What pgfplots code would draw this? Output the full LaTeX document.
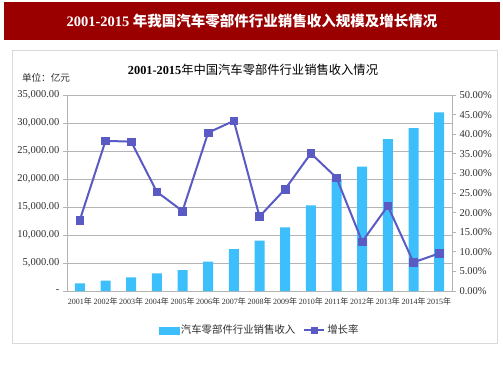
\documentclass[border=0pt]{standalone}
\usepackage{pgfplots}
\pgfplotsset{compat=1.18}
\usepackage{fontspec}
\setmainfont{Liberation Serif}
\newfontfamily\cjk{Noto Sans CJK SC}
\definecolor{banner}{HTML}{9A0000}
\definecolor{barc}{HTML}{3DBFFB}
\definecolor{linec}{HTML}{5A5AC4}
\definecolor{gridc}{HTML}{B4B4B4}
\definecolor{txt}{HTML}{303030}
\pgfplotsset{
  mylinelegend/.style={legend image code/.code={\draw[mark repeat=2,mark phase=2,##1, line width=2pt, mark size=3pt] plot coordinates {(0pt,0pt) (10pt,0pt) (20pt,0pt)};}},
  mybarlegend/.style={legend image code/.code={\fill[barc] (0pt,-3.5pt) rectangle (20pt,3.5pt);}},
}
\pgfplotstableread{
x val rate
0 1375 18.1
1 1840 38.3
2 2440 38.1
3 3150 25.3
4 3750 20.4
5 5240 40.4
6 7500 43.4
7 9000 19.0
8 11370 26.0
9 15300 35.1
10 19800 28.9
11 22200 12.6
12 27140 21.7
13 29100 7.3
14 31900 9.6
}\data
\begin{document}
\begin{tikzpicture}[x=1pt,y=1pt]
\path[fill=white] (0,0) rectangle (503,378);
\fill[banner] (4,338) rectangle (500,376);
\node[text=white,font=\fontsize{14.5}{16}\selectfont\bfseries] at (252,357) {2001-2015 {\cjk 年我国汽车零部件行业销售收入规模及增长情况}};
\draw[draw=black!15, line width=0.8pt] (12,35) rectangle (497,328);
\node[font=\fontsize{12.3}{14}\selectfont, text=black] at (253,308) {\textbf{2001-2015}{\cjk 年中国汽车零部件行业销售收入情况}};
\node[font=\cjk\fontsize{9.6}{11}\selectfont, text=txt] at (46,300) {单位：亿元};
\begin{axis}[
  at={(67pt,87pt)}, anchor=south west, scale only axis,
  width=385pt, height=196pt,
  xmin=-0.5, xmax=14.5, ymin=0, ymax=35000,
  axis x line*=bottom, axis y line*=left,
  axis line style={draw=gridc, line width=0.8pt},
  scaled y ticks=false,
  ytick={0,5000,...,35000},
  yticklabels={{-},{5,000.00},{10,000.00},{15,000.00},{20,000.00},{25,000.00},{30,000.00},{35,000.00}},
  ymajorgrids, grid style={draw=gridc, line width=0.8pt},
  xtick={0,...,14},
  xticklabels={2001{\cjk 年},2002{\cjk 年},2003{\cjk 年},2004{\cjk 年},2005{\cjk 年},2006{\cjk 年},2007{\cjk 年},2008{\cjk 年},2009{\cjk 年},2010{\cjk 年},2011{\cjk 年},2012{\cjk 年},2013{\cjk 年},2014{\cjk 年},2015{\cjk 年}},
  x tick label style={font=\fontsize{8}{9}\selectfont, text=txt, inner sep=1pt, yshift=-2pt},
  y tick label style={font=\fontsize{10.5}{12}\selectfont, text=txt},
  major x tick style={draw=none},
  tick align=outside, major tick length=4pt,
  tick style={draw=gridc, line width=0.8pt},
  extra x ticks={-0.5,0.5,...,14.5}, extra x tick labels={},
  extra x tick style={grid=none, major tick length=4pt, tick style={draw=gridc}},
  ybar, bar width=10pt,
]
\addplot[fill=barc, draw=none] table[x=x,y=val] {\data};
\end{axis}
\begin{axis}[
  at={(67pt,87pt)}, anchor=south west, scale only axis,
  width=385pt, height=196pt,
  xmin=-0.5, xmax=14.5, ymin=0, ymax=50,
  axis x line=none, axis y line*=right,
  axis line style={draw=gridc, line width=0.8pt},
  ytick={0,5,...,50},
  yticklabels={{0.00\%},{5.00\%},{10.00\%},{15.00\%},{20.00\%},{25.00\%},{30.00\%},{35.00\%},{40.00\%},{45.00\%},{50.00\%}},
  y tick label style={font=\fontsize{10.5}{12}\selectfont, text=txt},
  tick align=outside, major tick length=4pt,
  tick style={draw=gridc, line width=0.8pt},
  legend style={at={(0.5,-0.2)}, anchor=center, draw=none, fill=none,
    legend columns=2, font=\cjk\fontsize{10.4}{12}\selectfont, text=txt,
    /tikz/every even column/.append style={column sep=6pt},
    inner sep=0pt},
]
\addlegendimage{mybarlegend}
\addlegendentry{汽车零部件行业销售收入}
\addplot[color=linec, line width=2pt, mark=square*, mark size=3.8pt,
  mark options={solid, fill=linec, line width=0.5pt}, mylinelegend]
  table[x=x,y=rate] {\data};
\addlegendentry{增长率}
\end{axis}
\end{tikzpicture}
\end{document}
